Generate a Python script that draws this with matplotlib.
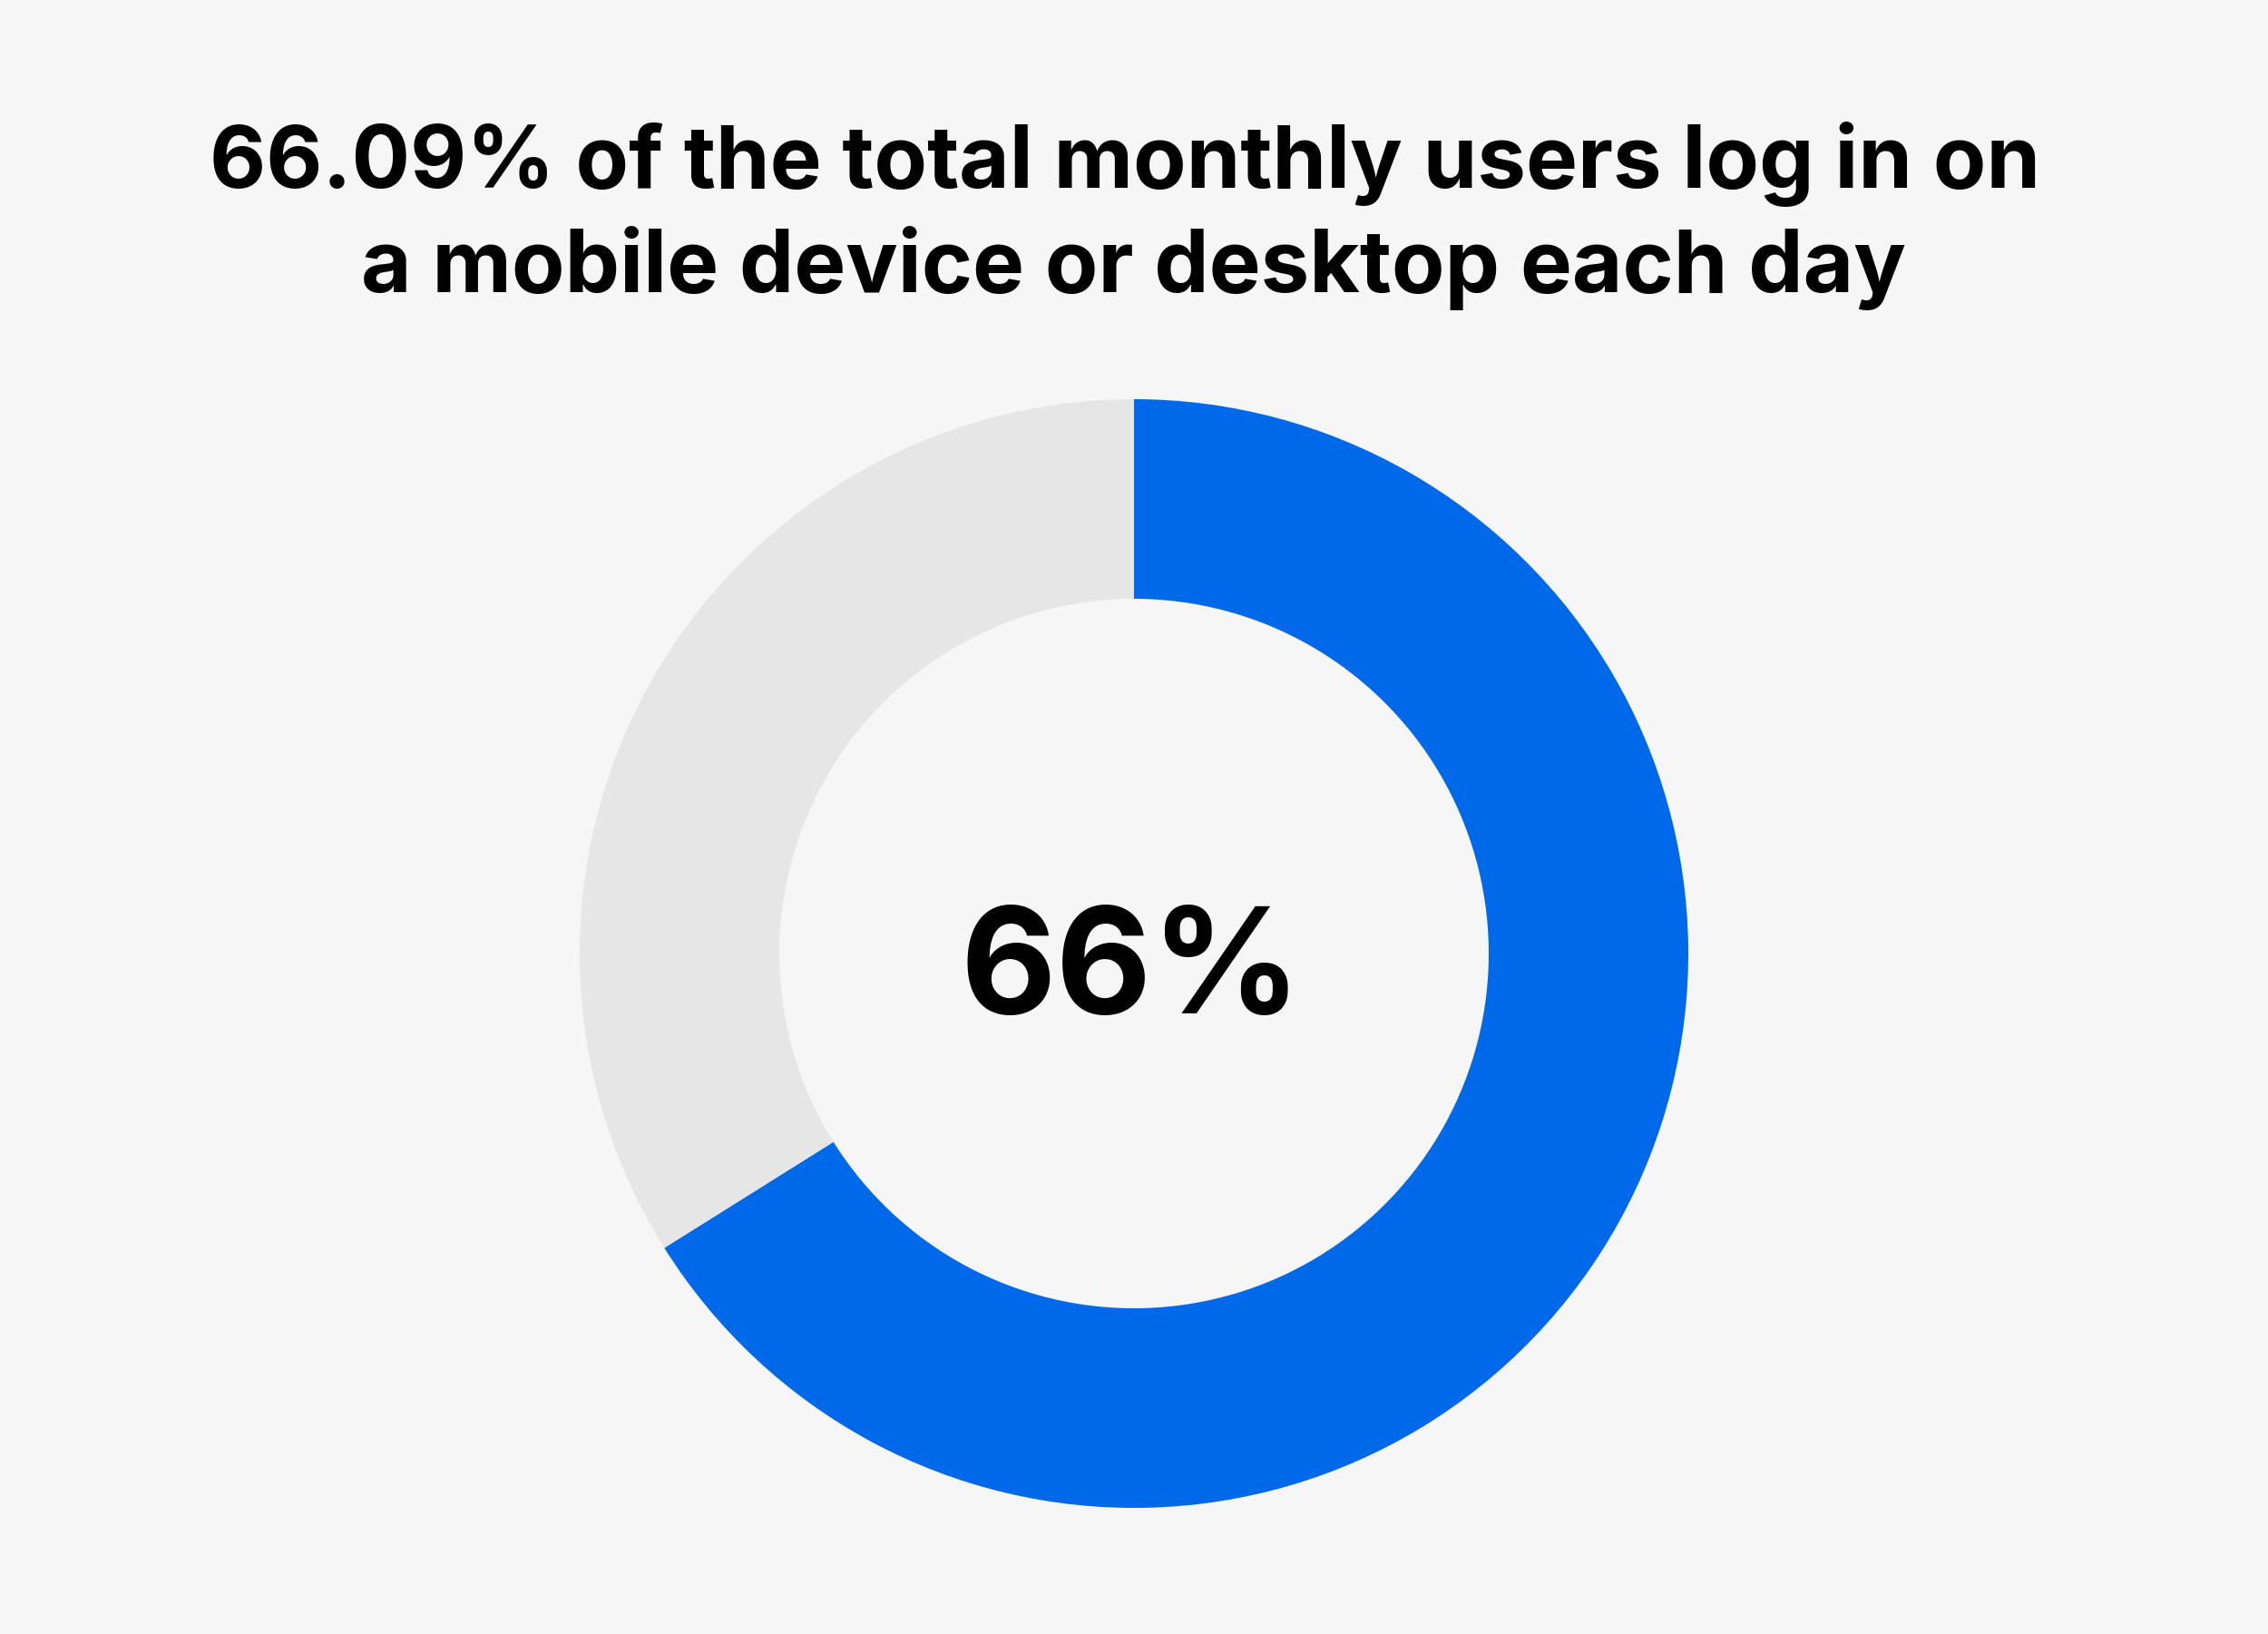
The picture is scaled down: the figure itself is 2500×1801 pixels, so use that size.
import numpy as np
import matplotlib

matplotlib.use("Agg")

import matplotlib.pyplot as plt

# Chart data.
labels = ["Log in each day", "Other"]
shares = [66.09, 33.91]
title_lines = ["66.09% of the total monthly users log in on",
               "a mobile device or desktop each day"]
center_label = "66%"

# Colors.
sliceColors = ["#0069EA", "#E6E6E6"]
backgroundColor = "#F6F6F6"

plt.rcParams['font.family'] = ['Inter', 'DejaVu Sans']

fig = plt.figure(figsize=(25, 18.01), dpi=100, facecolor=backgroundColor)
ax = fig.add_axes([0, 0, 1, 1])
ax.set_facecolor(backgroundColor)

# Pixel-like coordinates (y measured from the bottom).
W, H = 2500, 1801
cx, cy = 1250, H - 1051
outerR = 611
ringWidth = 220

ax.pie(shares, colors=sliceColors, startangle=90, counterclock=False,
       center=(cx, cy), radius=outerR, frame=True,
       wedgeprops=dict(width=ringWidth, linewidth=0, antialiased=True))

ax.set_xlim(0, W)
ax.set_ylim(0, H)
ax.set_aspect('auto')
ax.set_axis_off()

# Title, two lines.
ax.text(1240, H - 207, title_lines[0], ha='center', va='baseline',
        fontsize=69, fontweight='bold', color='#000000')
ax.text(1249, H - 322, title_lines[1], ha='center', va='baseline',
        fontsize=69, fontweight='bold', color='#000000')

# Value in the middle of the ring.
ax.text(1247, H - 1117, center_label, ha='center', va='baseline',
        fontsize=117, fontweight='bold', color='#000000')

fig.savefig("out.png", dpi=100, facecolor=fig.get_facecolor(), edgecolor='none')
plt.close()
